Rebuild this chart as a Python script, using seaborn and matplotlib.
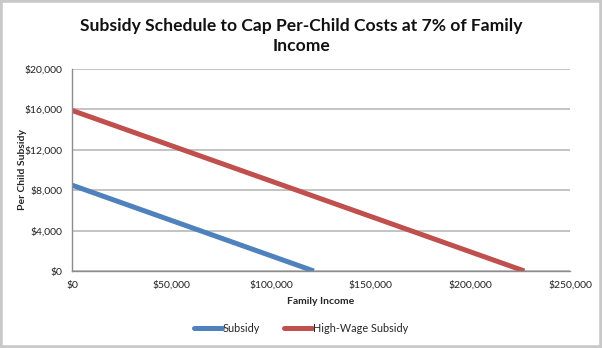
import matplotlib
matplotlib.use("Agg")
import matplotlib.pyplot as plt
from matplotlib.patches import Rectangle
from matplotlib.ticker import FuncFormatter, MultipleLocator
import seaborn as sns
import pandas as pd

# Subsidy schedules (income, per-child subsidy)
subsidy_income = [0, 121400]
subsidy_values = [8500, 0]
high_income = [0, 227100]
high_values = [15900, 0]
series_names = ["Subsidy", "High-Wage Subsidy"]
colors = ["#4F81BD", "#C0504D"]

df = pd.DataFrame({
    "income": subsidy_income + high_income,
    "value": subsidy_values + high_values,
    "series": [series_names[0]] * len(subsidy_income) + [series_names[1]] * len(high_income),
})

sns.set_style("white")
plt.rcParams["font.family"] = ["Lato", "DejaVu Sans"]

fig = plt.figure(figsize=(6.02, 3.48), dpi=100)
ax = fig.add_axes([72 / 602, 1 - 271 / 348, 498 / 602, 202 / 348])

sns.lineplot(data=df, x="income", y="value", hue="series", palette=colors,
             linewidth=3.6, ax=ax, legend=False, solid_capstyle="butt")

ax.set_xlim(0, 250000)
ax.set_ylim(0, 20000)
ax.xaxis.set_major_locator(MultipleLocator(50000))
ax.yaxis.set_major_locator(MultipleLocator(4000))
fmt = FuncFormatter(lambda v, p: f"${v:,.0f}")
ax.xaxis.set_major_formatter(fmt)
ax.yaxis.set_major_formatter(fmt)
ax.grid(axis="y", color="#b3b3b3", linewidth=1.1)
ax.set_axisbelow(True)
for s in ["top", "right"]:
    ax.spines[s].set_visible(False)
for s in ["left", "bottom"]:
    ax.spines[s].set_color("#8c8c8c")
    ax.spines[s].set_linewidth(1.0)
ax.tick_params(axis="both", length=4, width=1, color="#a0a0a0", labelsize=7.5,
               labelcolor="#222222", direction="out", pad=3)
ax.set_xlabel("Family Income", fontsize=7.5, fontweight="bold", labelpad=5)
ax.set_ylabel("Per Child Subsidy", fontsize=7.5, fontweight="bold", labelpad=-2)

fig.text(0.5, 1 - 36 / 348, "Subsidy Schedule to Cap Per-Child Costs at 7% of Family\nIncome",
         ha="center", va="center", fontsize=12.6, fontweight="bold",
         linespacing=1.3, color="#111111")

handles = [plt.Line2D([], [], color=c, linewidth=3.6) for c in colors]
fig.legend(handles, series_names, loc="center", bbox_to_anchor=(0.5, 1 - 328 / 348),
           ncol=2, frameon=False, fontsize=7.8, handlelength=2.6,
           handletextpad=0.1, columnspacing=2.2)

fig.patches.append(Rectangle((0, 0), 1, 1, transform=fig.transFigure,
                             fill=False, edgecolor="#c8c8c8", linewidth=4))

fig.savefig("out.png", dpi=100)
